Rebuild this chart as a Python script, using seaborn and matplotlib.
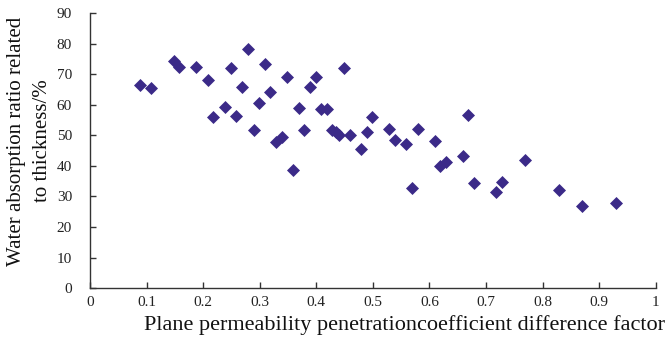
import matplotlib
matplotlib.use("Agg")
import matplotlib.pyplot as plt
import pandas as pd
import seaborn as sns

# plane permeability difference factor vs. water absorption ratio (%)
factor = [0.088, 0.108, 0.149, 0.158, 0.188, 0.208, 0.218, 0.239, 0.249, 0.258,
          0.269, 0.279, 0.289, 0.299, 0.309, 0.319, 0.329, 0.339, 0.349, 0.359,
          0.369, 0.379, 0.389, 0.399, 0.409, 0.419, 0.428, 0.434, 0.440, 0.449,
          0.459, 0.479, 0.489, 0.499, 0.529, 0.539, 0.559, 0.569, 0.579, 0.609,
          0.619, 0.629, 0.659, 0.669, 0.679, 0.718, 0.729, 0.769, 0.829, 0.869,
          0.929]
absorption = [66.4, 65.3, 74.4, 72.4, 72.2, 68.1, 55.9, 59.1, 71.9, 56.2,
              65.7, 78.2, 51.8, 60.6, 73.3, 64.0, 47.7, 49.3, 69.0, 38.7,
              58.8, 51.6, 65.8, 68.9, 58.6, 58.5, 51.8, 51.0, 50.2, 71.9,
              50.1, 45.6, 51.0, 56.1, 51.9, 48.5, 47.3, 32.6, 52.1, 48.0,
              39.8, 41.2, 43.3, 56.7, 34.5, 31.4, 34.7, 41.9, 32.0, 26.8,
              27.9]

df = pd.DataFrame({"factor": factor, "absorption": absorption})

sns.set_theme(style="ticks")
plt.rcParams["font.family"] = ["Liberation Serif", "DejaVu Serif"]

fig, ax = plt.subplots(figsize=(6.67, 3.41), dpi=100)
fig.subplots_adjust(left=0.135, right=0.983, top=0.962, bottom=0.155)

sns.scatterplot(data=df, x="factor", y="absorption", marker="D", s=44,
                color="#3b2a88", edgecolor="#3b2a88", linewidth=0, ax=ax)

ax.set_xlim(0, 1)
ax.set_ylim(0, 90)
ax.set_xticks([i / 10 for i in range(11)])
ax.set_xticklabels(["0", "0.1", "0.2", "0.3", "0.4", "0.5", "0.6", "0.7", "0.8", "0.9", "1"])
ax.set_yticks(range(0, 91, 10))
ax.tick_params(direction="in", length=4, width=1, colors="#333333",
               labelsize=11, labelcolor="#222222")
ax.tick_params(axis="x", pad=6)
ax.tick_params(axis="y", pad=13)
for side in ("left", "bottom"):
    ax.spines[side].set_color("#333333")
    ax.spines[side].set_linewidth(1)
sns.despine(ax=ax)

ax.set_xlabel("Plane permeability penetrationcoefficient difference factor",
              fontsize=16, color="#111111", ha="right")
ax.xaxis.set_label_coords(1.016, -0.098)
ax.set_ylabel("Water absorption ratio related\nto thickness/%", fontsize=15,
              color="#111111", linespacing=1.45)
ax.yaxis.set_label_coords(-0.068, 0.535)

fig.savefig("out.png", dpi=100)
